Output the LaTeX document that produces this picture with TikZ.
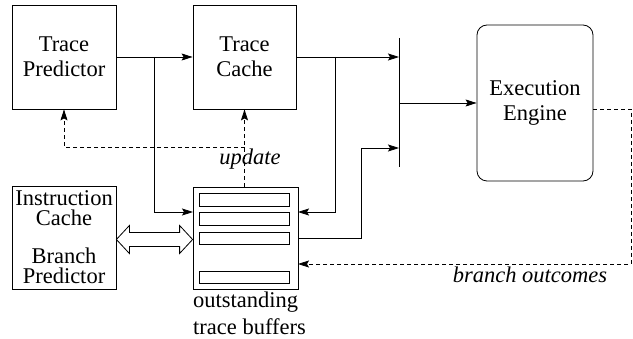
\documentclass[tikz,border=0pt]{standalone}
\usepackage{fontspec}
\setmainfont{Liberation Serif}
\usetikzlibrary{arrows.meta,calc}
\begin{document}
\begin{tikzpicture}[x=1pt,y=-1pt,
  box/.style={draw,line width=0.8pt,inner sep=0pt,align=center,
    font=\fontsize{22.5}{25}\selectfont},
  arr/.style={line width=0.8pt,-{Stealth[length=11pt,width=7pt,inset=2pt]}},
  dsh/.style={line width=0.8pt,dash pattern=on 4pt off 3pt},
  lbl/.style={inner sep=0pt,font=\fontsize{22.5}{25}\selectfont}]
\useasboundingbox (0,0) rectangle (633,339);
% boxes
\node[box,minimum width=104pt,minimum height=104pt] (tp) at (64,57) {Trace\\Predictor};
\node[box,minimum width=103pt,minimum height=104pt] (tc) at (244.5,57) {Trace\\Cache};
\node[box,minimum width=116pt,minimum height=156pt,rounded corners=10pt] (ee) at (535,103) {Execution\\Engine};
\node[box,minimum width=104pt,minimum height=103pt,font=\fontsize{22.5}{20}\selectfont] (ic) at (64,237.5) {Instruction\\Cache\\[18pt]Branch\\Predictor};
\node[box,minimum width=105pt,minimum height=102pt] (buf) at (245.5,238) {};
% inner buffers
\draw[line width=0.8pt] (199,193) rectangle (289,206);
\draw[line width=0.8pt] (199,212) rectangle (289,225);
\draw[line width=0.8pt] (199,232) rectangle (289,244);
\draw[line width=0.8pt] (199,271) rectangle (289,283);
% bus
\coordinate (busT) at (399,38);
\coordinate (busB) at (399,167);
\draw[line width=0.8pt] (busT) -- (busB);
\coordinate (b1) at (399,57);
\coordinate (b2) at (399,103);
\coordinate (b3) at (399,148);
\coordinate (j1) at (154,57);
\coordinate (j2) at (335,57);
\coordinate (bufL1) at (193,212);
\coordinate (bufR1) at (298,212);
\coordinate (bufR2) at (298,238);
\coordinate (bufR3) at (298,264);
\coordinate (eeR) at (593,109);
\coordinate (d1) at (245,147);
% connectors
\draw[arr] (tp) -- (tc);
\draw[arr] (j1) |- (bufL1);
\draw[arr] (tc.east) -- (b1);
\draw[arr] (j2) |- (bufR1);
\draw[arr] (bufR2) -- ++(63,0) |- (b3);
\draw[arr] (b2) -- (ee.west |- b2);
\draw[dsh,-{Stealth[length=11pt,width=7pt,inset=2pt]}] (eeR) -- ++(38,0) |- (bufR3);
\draw[dsh,-{Stealth[length=11pt,width=7pt,inset=2pt]}] (tc.south |- buf.north) -- (tc.south);
\draw[dsh,-{Stealth[length=11pt,width=7pt,inset=2pt]}] (d1) -| (tp.south);
% double arrow
\draw[line width=0.8pt,fill=white] (ic.east |- 0,239.5) -- ++(13,-14) -- ++(0,7) -- ($(buf.west |- 0,232.5)+(-13,0)$) -- ++(0,-7) -- (buf.west |- 0,239.5) -- ++(-13,14) -- ++(0,-7) -- ($(ic.east |- 0,246.5)+(13,0)$) -- ++(0,7) -- cycle;
% labels
\node[lbl,anchor=base] (upd) at (250,165) {\itshape update};
\node[lbl,anchor=base] (bo) at (530,283) {\itshape branch outcomes};
\node[lbl,anchor=base west] (ot1) at (193,308) {outstanding};
\node[lbl,anchor=base west] (ot2) at (193,335) {trace buffers};
\end{tikzpicture}
\end{document}
